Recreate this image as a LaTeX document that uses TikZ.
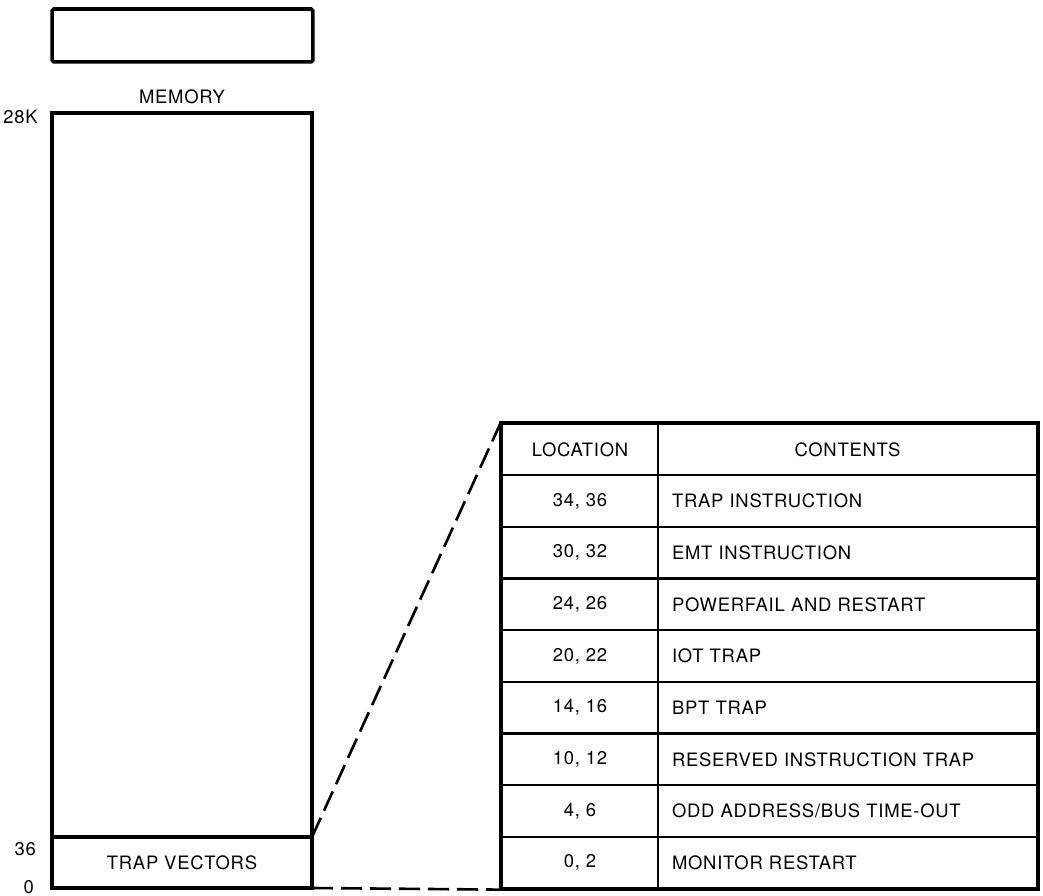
\documentclass[tikz,border=0pt]{standalone}
\usepackage{fontspec}
\setmainfont[LetterSpace=4]{TeX Gyre Heros}
\usepackage{tikz}
\usetikzlibrary{positioning}

\tikzset{
  heavy/.style={draw, line width=2pt},
  lbl/.style={font=\fontsize{10.5}{12}\selectfont},
  cell/.style={draw, line width=1.3pt, minimum height=1.0333cm, inner sep=0pt, lbl},
  loccell/.style={cell, minimum width=3.12cm},
  concell/.style={cell, minimum width=7.58cm, text width=7.02cm, inner xsep=0.28cm, align=left},
  zoomline/.style={line width=1.5pt, dash pattern=on 12pt off 4.5pt}
}

\begin{document}
\begin{tikzpicture}[x=0.02cm, y=-0.02cm]
    \useasboundingbox (0,0) rectangle (1043,895);
    \node[heavy, minimum width=5.22cm, minimum height=1.06cm, rounded corners=1pt] (spare) at (182.5,35.5) {};
    \node[lbl] (mem) at (182,97) {MEMORY};
    \node[lbl, anchor=east] (k28) at (44,117) {28K};
    \node[lbl, anchor=east] (a36) at (42,849) {36};
    \node[lbl, anchor=east] (a0) at (40,887) {0};
    \draw[heavy] (52,113) rectangle (312,888);
    \coordinate (tvtop) at (312,837);
    \coordinate (tvbot) at (312,888);
    \draw[heavy] (52,837) -- (tvtop);
    \node[lbl] (tv) at (182,863) {TRAP VECTORS};

    \node[loccell] (loc0) at (580,449.3) {LOCATION};
    \node[cell, minimum width=7.58cm] (con0) at (847.5,449.3) {CONTENTS};
    \foreach \i/\loc/\con in {1/{34, 36}/TRAP INSTRUCTION, 2/{30, 32}/EMT INSTRUCTION,
        3/{24, 26}/POWERFAIL AND RESTART, 4/{20, 22}/IOT TRAP, 5/{14, 16}/BPT TRAP,
        6/{10, 12}/RESERVED INSTRUCTION TRAP, 7/{4, 6}/{ODD ADDRESS/BUS TIME-OUT},
        8/{0, 2}/MONITOR RESTART}{
      \node[loccell] (loc\i) at (580,449.3+51.67*\i) {\loc};
      \node[concell] (con\i) at (847.5,449.3+51.67*\i) {\con};
    }
    \draw[heavy] (loc0.north west) rectangle (con8.south east);
    \draw[zoomline] (tvtop) -- (loc0.north west);
    \draw[zoomline] (tvbot) -- (loc8.south west);
\end{tikzpicture}
\end{document}
